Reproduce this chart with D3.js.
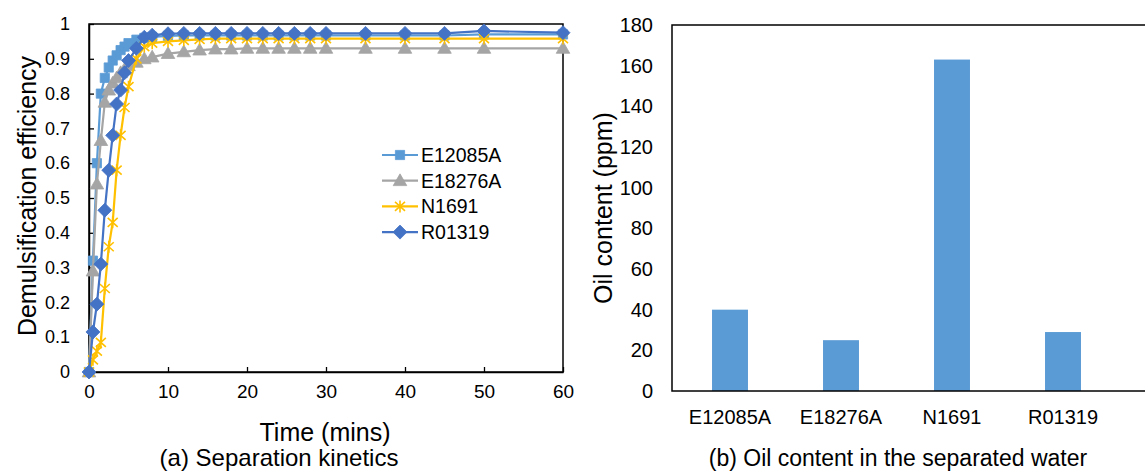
<!DOCTYPE html>
<html><head><meta charset="utf-8">
<script src="https://cdn.jsdelivr.net/npm/d3@7"></script>
<style>
body{margin:0;background:#fff;}
svg{display:block;font-family:"Liberation Sans",Arial,sans-serif;}
</style></head>
<body>
<svg id="c" width="1145" height="472"></svg>
<script>
// ---- Data: (a) Separation kinetics ----
const times = [0,0.5,1,1.5,2,2.5,3,3.5,4,4.5,5,6,7,8,10,12,14,16,18,20,22,24,26,28,30,35,40,45,50,60];
const E12085A = [0,0.32,0.60,0.80,0.845,0.875,0.895,0.91,0.925,0.935,0.945,0.955,0.96,0.963,0.966,0.967,0.967,0.967,0.967,0.967,0.967,0.967,0.967,0.967,0.967,0.967,0.967,0.967,0.97,0.97];
const E18276A = [0,0.29,0.54,0.665,0.775,0.81,0.83,0.845,0.86,0.87,0.88,0.89,0.90,0.905,0.915,0.92,0.925,0.928,0.928,0.93,0.93,0.93,0.93,0.93,0.93,0.93,0.93,0.93,0.93,0.93];
const N1691 = [0,0.035,0.06,0.085,0.24,0.36,0.43,0.58,0.68,0.76,0.82,0.90,0.935,0.945,0.95,0.953,0.956,0.958,0.958,0.958,0.958,0.958,0.958,0.958,0.958,0.958,0.958,0.958,0.958,0.958];
const R01319 = [0,0.115,0.195,0.31,0.465,0.58,0.68,0.77,0.81,0.86,0.895,0.93,0.962,0.968,0.972,0.973,0.973,0.973,0.973,0.973,0.973,0.973,0.973,0.973,0.973,0.973,0.973,0.973,0.98,0.975];
const seriesNames = ["E12085A","E18276A","N1691","R01319"];
const xTicksA = [0,10,20,30,40,50,60];
const yTicksA = [0,0.1,0.2,0.3,0.4,0.5,0.6,0.7,0.8,0.9,1];

// ---- Data: (b) Oil content ----
const samples = ["E12085A","E18276A","N1691","R01319"];
const oilContent = [40,25,163,29];
const yTicksB = [0,20,40,60,80,100,120,140,160,180];

const colors = {E12085A:"#5B9BD5",E18276A:"#A5A5A5",N1691:"#FFC000",R01319:"#4472C4"};
const shapes = {E12085A:"square",E18276A:"triangle",N1691:"star",R01319:"diamond"};
const values = {E12085A,E18276A,N1691,R01319};

const svg = d3.select("#c");
const FONT = "Liberation Sans, Arial, sans-serif";

// ===== Chart (a) =====
const xA = d3.scaleLinear().domain([0,60]).range([89,563]);
const yA = d3.scaleLinear().domain([0,1]).range([372,24]);

const gA = svg.append("g");
gA.append("rect").attr("x",xA(0)).attr("y",yA(1)).attr("width",xA(60)-xA(0)).attr("height",yA(0)-yA(1))
  .attr("fill","none").attr("stroke","#000").attr("stroke-width",1.5);

const axA_x = gA.append("g").attr("transform",`translate(0,${yA(0)})`)
  .call(d3.axisBottom(xA).tickValues(xTicksA).tickSizeInner(-5).tickSizeOuter(0).tickPadding(13));
const axA_y = gA.append("g").attr("transform",`translate(${xA(0)},0)`)
  .call(d3.axisLeft(yA).tickValues(yTicksA).tickSizeInner(-5).tickSizeOuter(0).tickPadding(19)
    .tickFormat(d => (d===0||d===1) ? String(d) : d.toFixed(1)));
axA_x.selectAll(".tick text").attr("font-size",19);
axA_y.selectAll(".tick text").attr("font-size",18);
[axA_x,axA_y].forEach(a=>{
  a.select(".domain").attr("stroke","#000").attr("stroke-width",1.5);
  a.selectAll(".tick line").attr("stroke","#000").attr("stroke-width",1.3);
  a.selectAll(".tick text").attr("font-family",FONT).attr("fill","#000");
});

function markerPath(shape){
  if(shape==="square") return d3.symbol(d3.symbolSquare,85)();
  if(shape==="triangle") return d3.symbol(d3.symbolTriangle,80)();
  if(shape==="diamond") return "M0,-7L7,0L0,7L-7,0Z";
  if(shape==="star") return "M0,-6V6M-5,-4.5L5,4.5M-5,4.5L5,-4.5";
}
function drawMarker(sel, shape, color){
  sel.append("path").attr("d",markerPath(shape))
    .attr("fill", shape==="star" ? "none" : color)
    .attr("stroke", color)
    .attr("stroke-width", shape==="star" ? 1.6 : 0.8)
    .attr("transform", shape==="triangle" ? "translate(0,1)" : null);
}

const line = d3.line().x(d=>xA(d[0])).y(d=>yA(d[1]));
seriesNames.forEach(name=>{
  const pts = times.map((t,i)=>[t, values[name][i]]);
  const g = gA.append("g");
  g.append("path").datum(pts).attr("d",line).attr("fill","none")
    .attr("stroke",colors[name]).attr("stroke-width",2.2).attr("stroke-linejoin","round");
  g.selectAll("g.m").data(pts).join("g").attr("class","m")
    .attr("transform",d=>`translate(${xA(d[0])},${yA(d[1])})`)
    .each(function(){ drawMarker(d3.select(this), shapes[name], colors[name]); });
});

// legend
const legend = gA.append("g");
seriesNames.forEach((name,i)=>{
  const yy = 155 + i*25.7;
  legend.append("line").attr("x1",382).attr("x2",418).attr("y1",yy).attr("y2",yy)
    .attr("stroke",colors[name]).attr("stroke-width",2.2);
  const m = legend.append("g").attr("transform",`translate(400,${yy})`);
  drawMarker(m, shapes[name], colors[name]);
  legend.append("text").attr("x",421).attr("y",yy).attr("dy","0.35em")
    .attr("font-size",19.5).attr("font-family",FONT).text(name);
});

gA.append("text").attr("x",325).attr("y",441).attr("text-anchor","middle")
  .attr("font-size",25).attr("font-family",FONT).text("Time (mins)");
gA.append("text").attr("transform","translate(27,196) rotate(-90)").attr("text-anchor","middle")
  .attr("dy","0.35em").attr("font-size",25).attr("font-family",FONT).text("Demulsification efficiency");
gA.append("text").attr("x",279).attr("y",466).attr("text-anchor","middle")
  .attr("font-size",24).attr("font-family",FONT).text("(a) Separation kinetics");

// ===== Chart (b) =====
const xB = d3.scaleBand().domain(samples).range([674.5,1118.5]).paddingInner(0.676).paddingOuter(0.338);
const yB = d3.scaleLinear().domain([0,180]).range([391,25]);
const gB = svg.append("g");
gB.selectAll("rect.bar").data(samples).join("rect").attr("class","bar")
  .attr("x",d=>xB(d)).attr("width",xB.bandwidth())
  .attr("y",(d,i)=>yB(oilContent[i])).attr("height",(d,i)=>yB(0)-yB(oilContent[i]))
  .attr("fill","#5B9BD5");
gB.append("rect").attr("x",672).attr("y",yB(180)).attr("width",500).attr("height",yB(0)-yB(180))
  .attr("fill","none").attr("stroke","#000").attr("stroke-width",1.5);
const axB_y = gB.append("g").attr("transform","translate(672,0)")
  .call(d3.axisLeft(yB).tickValues(yTicksB).tickSize(0).tickPadding(19));
const axB_x = gB.append("g").attr("transform",`translate(0,${yB(0)})`)
  .call(d3.axisBottom(xB).tickSize(0).tickPadding(19));
[axB_x,axB_y].forEach(a=>{
  a.select(".domain").remove();
  a.selectAll(".tick text").attr("font-size",20).attr("font-family",FONT).attr("fill","#000");
});
gB.append("text").attr("transform","translate(603,208) rotate(-90)").attr("text-anchor","middle")
  .attr("dy","0.35em").attr("font-size",25).attr("font-family",FONT).text("Oil content (ppm)");
gB.append("text").attr("x",898).attr("y",466).attr("text-anchor","middle")
  .attr("font-size",23).attr("font-family",FONT).text("(b) Oil content in the separated water");
</script>
</body></html>
